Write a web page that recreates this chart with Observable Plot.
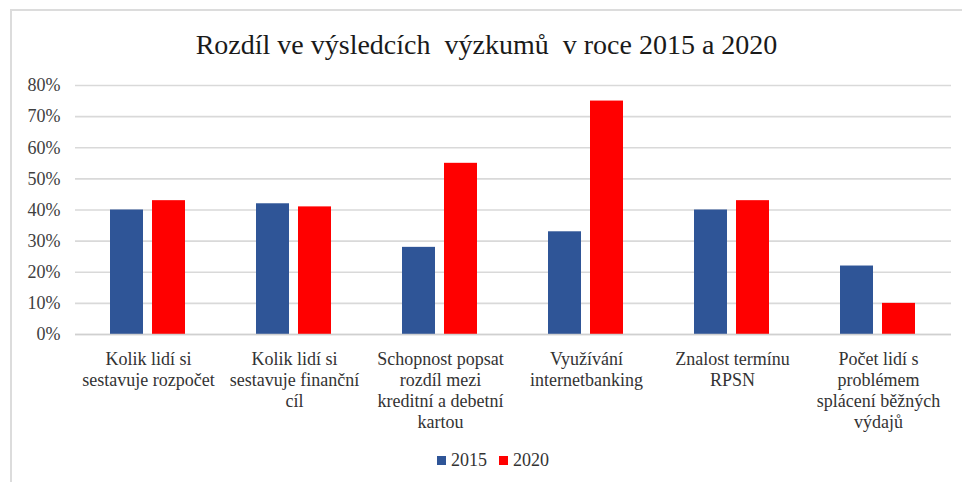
<!DOCTYPE html>
<html>
<head>
<meta charset="utf-8">
<script src="https://cdn.jsdelivr.net/npm/d3@7"></script>
<script src="https://cdn.jsdelivr.net/npm/@observablehq/plot@0.6"></script>
<style>
  html, body { margin: 0; padding: 0; background: #fff; }
  #wrap { position: relative; width: 962px; height: 482px; overflow: hidden; font-family: "Liberation Serif", "Times New Roman", serif; }
  #frame { position: absolute; left: 10px; top: 9px; width: 960px; height: 480px; border-top: 2px solid #dcdcdc; border-left: 2px solid #dcdcdc; box-sizing: border-box; }
  #title { position: absolute; left: 11px; width: 951px; top: 29px; text-align: center; font-size: 28px; line-height: 32px; color: #1a1a1a; white-space: pre; }
  #chart { position: absolute; left: 0; top: 0; }
  #chart svg text { font-family: "Liberation Serif", "Times New Roman", serif; }
  #legend { position: absolute; left: 437px; top: 449px; display: flex; align-items: center; font-size: 18px; line-height: 22px; color: #333; }
  .sw { width: 9px; height: 9px; display: inline-block; margin-right: 5px; }
  .item { display: flex; align-items: center; margin-right: 12px; }
</style>
</head>
<body>
<div id="wrap">
  <div id="frame"></div>
  <div id="chart"></div>
  <div id="title"></div>
  <div id="legend"></div>
</div>
<script>
const titleText = "Rozdíl ve výsledcích  výzkumů  v roce 2015 a 2020";
const categories = [
  "Kolik lidí si\nsestavuje rozpočet",
  "Kolik lidí si\nsestavuje finanční\ncíl",
  "Schopnost popsat\nrozdíl mezi\nkreditní a debetní\nkartou",
  "Využívání\ninternetbanking",
  "Znalost termínu\nRPSN",
  "Počet lidí s\nproblémem\nsplácení běžných\nvýdajů"
];
const years = ["2015", "2020"];
const values2015 = [0.40, 0.42, 0.28, 0.33, 0.40, 0.22];
const values2020 = [0.43, 0.41, 0.55, 0.75, 0.43, 0.10];
const yTicks = [0, 0.1, 0.2, 0.3, 0.4, 0.5, 0.6, 0.7, 0.8];
const colors = ["#2F5597", "#FF0000"];

const table = [];
categories.forEach((c, i) => {
  table.push({category: c, year: years[0], value: values2015[i]});
  table.push({category: c, year: years[1], value: values2020[i]});
});

document.getElementById("title").textContent = titleText;

const chart = Plot.plot({
  width: 962,
  height: 482,
  marginLeft: 75,
  marginRight: 11,
  marginTop: 85,
  marginBottom: 148,
  style: {fontFamily: "'Liberation Serif', 'Times New Roman', serif", background: "transparent", overflow: "visible"},
  fx: {domain: categories, padding: 0, axis: null},
  x: {domain: years, paddingInner: 0.214, paddingOuter: 0.845, axis: null},
  y: {domain: [0, 0.8], axis: null},
  color: {domain: years, range: colors},
  marks: [
    Plot.gridY(yTicks, {stroke: "#d9d9d9", strokeOpacity: 1, strokeWidth: 1.6}),
    Plot.barY(table, {fx: "category", x: "year", y: "value", fill: "year"}),
    Plot.ruleY([0], {stroke: "#d0d0d0", strokeWidth: 1.6}),
    Plot.axisY(yTicks, {tickSize: 0, tickPadding: 15, fontSize: 18, fill: "#404040", label: null, tickFormat: d3.format(".0%")}),
    Plot.axisFx({anchor: "bottom", tickSize: 0, tickPadding: 16, fontSize: 18, lineHeight: 1.167, fill: "#333", label: null, tickFormat: d => d})
  ]
});
document.getElementById("chart").appendChild(chart);

const legend = document.getElementById("legend");
years.forEach((y, i) => {
  const item = document.createElement("div");
  item.className = "item";
  const sw = document.createElement("span");
  sw.className = "sw";
  sw.style.background = colors[i];
  const t = document.createElement("span");
  t.textContent = y;
  item.appendChild(sw);
  item.appendChild(t);
  legend.appendChild(item);
});
</script>
</body>
</html>
